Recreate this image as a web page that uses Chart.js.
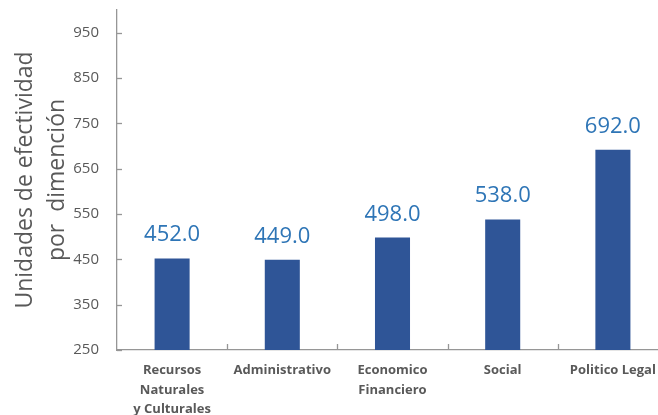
<!DOCTYPE html>
<html><head><meta charset="utf-8">
<script src="https://cdn.jsdelivr.net/npm/chart.js@4/dist/chart.umd.min.js"></script>
<style>html,body{margin:0;padding:0;overflow:hidden;background:#fff}#wrap{width:668px;height:415px;position:relative}</style>
</head><body><div id="wrap"><canvas id="c"></canvas></div>
<script>
const categories = [['Recursos','Naturales','y Culturales'], 'Administrativo', ['Economico','Financiero'], 'Social', 'Politico Legal'];
const values = [452.0, 449.0, 498.0, 538.0, 692.0];
const yTicks = [250, 350, 450, 550, 650, 750, 850, 950];
const yTitle = ['Unidades de efectividad', 'por  dimención'];

const AXIS = '#969696';
const TEXT = '#595959';

const innerTicks = {
  id: 'innerTicks',
  afterDatasetsDraw(chart) {
    const ctx = chart.ctx, xs = chart.scales.x, ys = chart.scales.y;
    const a = chart.chartArea;
    ctx.save();
    ctx.strokeStyle = AXIS; ctx.lineWidth = 1.3;
    yTicks.forEach(v => {
      const y = Math.round(ys.getPixelForValue(v)) + 0.5;
      ctx.beginPath(); ctx.moveTo(a.left, y); ctx.lineTo(a.left + 5, y); ctx.stroke();
    });
    for (let i = 1; i < categories.length; i++) {
      const x = Math.round((xs.getPixelForValue(i - 1) + xs.getPixelForValue(i)) / 2) + 0.5;
      ctx.beginPath(); ctx.moveTo(x, a.bottom); ctx.lineTo(x, a.bottom - 6); ctx.stroke();
    }
    ctx.restore();
  }
};

const dataLabels = {
  id: 'dataLabels',
  afterDatasetsDraw(chart) {
    const ctx = chart.ctx;
    const meta = chart.getDatasetMeta(0);
    ctx.save();
    ctx.fillStyle = '#2E75B6';
    ctx.font = '22px "Open Sans"';
    ctx.textAlign = 'center';
    ctx.textBaseline = 'alphabetic';
    meta.data.forEach((el, i) => {
      ctx.fillText(values[i].toFixed(1), el.x, el.y - 17);
    });
    ctx.restore();
  }
};

new Chart(document.getElementById('c'), {
  type: 'bar',
  data: {
    labels: categories,
    datasets: [{
      data: values,
      backgroundColor: '#2F5597',
      borderWidth: 0,
      categoryPercentage: 1,
      barPercentage: 0.318
    }]
  },
  options: {
    responsive: true,
    maintainAspectRatio: false,
    animation: false,
    layout: { padding: { top: 10, left: 9, right: 0, bottom: 0 } },
    plugins: { legend: { display: false }, tooltip: { enabled: false } },
    scales: {
      x: {
        grid: { display: false, drawTicks: false },
        border: { display: true, color: AXIS, width: 1.3 },
        afterFit(scale) { scale.paddingLeft = 0; scale.paddingRight = 0; scale.height = 65; },
        ticks: {
          color: TEXT, padding: 11, maxRotation: 0, autoSkip: false,
          font: { family: '"Open Sans"', size: 13, weight: 'bold', lineHeight: 1.5 }
        }
      },
      y: {
        min: 250, max: 1000,
        afterBuildTicks(scale) { scale.ticks = yTicks.map(v => ({ value: v })); },
        afterFit(scale) { scale.paddingTop = 0; scale.paddingBottom = 0; scale.width = 108; },
        grid: { display: false, drawTicks: false },
        border: { display: true, color: AXIS, width: 1.3 },
        ticks: { color: TEXT, padding: 18, font: { family: '"Open Sans"', size: 15 } },
        title: {
          display: true, text: yTitle, color: TEXT,
          font: { family: '"Open Sans"', size: 23, lineHeight: 1.39 },
          padding: { top: 0, bottom: 0 }
        }
      }
    }
  },
  plugins: [innerTicks, dataLabels]
});
</script>
</body></html>
